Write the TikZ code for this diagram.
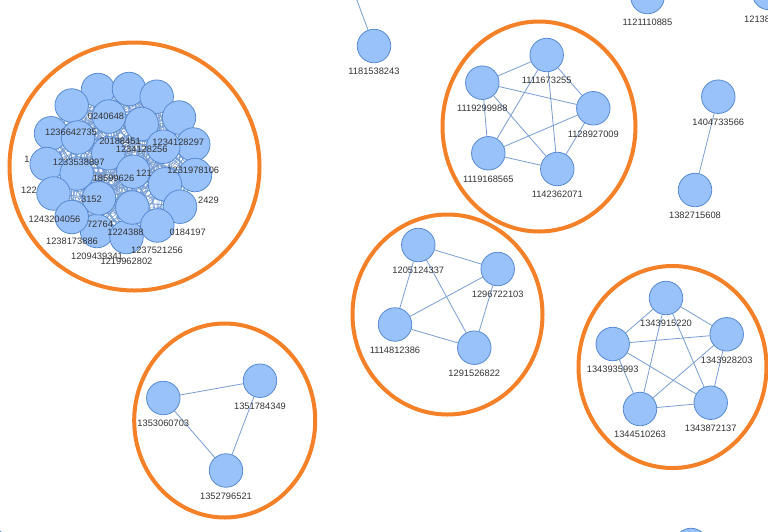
\documentclass[tikz,border=0pt]{standalone}
\usepackage{fontspec}
\setmainfont{Liberation Sans}
\usetikzlibrary{shapes.geometric}
\pgfdeclarelayer{bgwhite}
\pgfdeclarelayer{bg}
\pgfdeclarelayer{fg}
\pgfsetlayers{bgwhite,bg,main,fg}
\definecolor{nodefill}{RGB}{153,194,250}
\definecolor{nodedraw}{RGB}{88,138,210}
\definecolor{edgecol}{RGB}{120,158,212}
\definecolor{ringcol}{RGB}{244,128,40}
\definecolor{labcol}{RGB}{51,51,51}
\tikzset{
  gn/.style={circle, fill=nodefill, draw=nodedraw, line width=0.8pt, minimum size=33.5pt, inner sep=0pt},
  lab/.style={font=\fontsize{9.3}{10}\selectfont, text=labcol, inner sep=0pt},
  edge/.style={draw=edgecol, line width=0.8pt},
  ring/.style={ellipse, draw=ringcol, line width=4pt, inner sep=0pt},
}
\newcommand\gnode[4]{\node[gn] (#1) at (#2,#3) {};%
  \begin{pgfonlayer}{fg}\node[lab] (#1l) at (#2,#3+25.5) {#4};\end{pgfonlayer}}
\newcommand\frag[4]{\begin{pgfonlayer}{fg}\node[lab,#4] (#1) at (#2) {#3};\end{pgfonlayer}}
\begin{document}
\begin{tikzpicture}[x=1pt,y=-1pt]
\useasboundingbox (0,0) rectangle (768,531);
\begin{pgfonlayer}{bgwhite}
\fill[white] (0,0) rectangle (768,531);
\end{pgfonlayer}
\clip (0,0) rectangle (768,531);

% ---------- rings ----------
\node[ring, minimum width=250pt, minimum height=248pt] (ring1) at (134.5,166.5) {};
\node[ring, minimum width=193pt, minimum height=210pt] (ring2) at (539,126.5) {};
\node[ring, minimum width=190pt, minimum height=200pt] (ring3) at (447.5,314.5) {};
\node[ring, minimum width=188pt, minimum height=202pt] (ring4) at (672.5,367) {};
\node[ring, minimum width=181pt, minimum height=194pt] (ring5) at (224.7,420.5) {};

% ---------- big cluster ----------
\node[gn] (bX) at (97,231) {};
\node[gn] (bY) at (126.5,237) {};
\node[gn] (bA) at (98,90) {};
\node[gn] (bB) at (129,89) {};
\node[gn] (bC) at (156.7,96.7) {};
\node[gn] (bD) at (71.7,105.5) {};
\node[gn] (bE) at (179,117.5) {};
\node[gn] (bF) at (109,116.5) {};
\node[gn] (bG) at (141.7,124) {};
\node[gn] (bH) at (51,133.3) {};
\node[gn] (bI) at (78,137.5) {};
\node[gn] (bK) at (193.3,144.5) {};
\node[gn] (bJ) at (163.3,146.7) {};
\node[gn] (bL) at (108.3,153.3) {};
\node[gn] (bM) at (46.7,164) {};
\node[gn] (bN) at (76.7,173.5) {};
\node[gn] (bO) at (133.3,171.7) {};
\node[gn] (bP) at (195,175) {};
\node[gn] (bQ) at (165,184.3) {};
\node[gn] (bR) at (53.5,193.5) {};
\node[gn] (bS) at (99,198.3) {};
\node[gn] (bV) at (71.7,217) {};
\node[gn] (bT) at (132.3,207.5) {};
\node[gn] (bU) at (180,206.7) {};
\node[gn] (bW) at (157.3,225.5) {};

\begin{pgfonlayer}{bg}
\foreach \a [count=\i] in {bA,bB,bC,bD,bE,bF,bG,bH,bI,bJ,bK,bL,bM,bN,bO,bP,bQ,bR,bS,bT,bU,bV,bW,bX,bY}{
  \foreach \b [count=\j] in {bA,bB,bC,bD,bE,bF,bG,bH,bI,bJ,bK,bL,bM,bN,bO,bP,bQ,bR,bS,bT,bU,bV,bW,bX,bY}{
    \ifnum\j>\i \draw[edge,line width=0.6pt] (\a.center) -- (\b.center); \fi
  }
}
\end{pgfonlayer}

\frag{f1}{106,116.5}{0240648}{}
\frag{f2}{71,132.3}{1236642735}{}
\frag{f3}{120,141}{20188451}{}
\frag{f4}{141.7,149.3}{1234128256}{}
\frag{f5}{178.3,142.7}{1234128297}{}
\frag{f6}{27,159}{1}{}
\frag{f7}{78.7,162.7}{1233538897}{}
\frag{f8}{113.5,178.3}{18599626}{}
\frag{f9}{144,173.5}{121}{}
\frag{f10}{193.3,170.5}{1231978106}{}
\frag{f11}{21,190.5}{122}{anchor=west}
\frag{f12}{91.5,199.5}{3152}{}
\frag{f13}{219,200.5}{2429}{anchor=east}
\frag{f14}{54.5,219}{1243204056}{}
\frag{f15}{100,224}{72764}{}
\frag{f16}{125.5,232}{1224388}{}
\frag{f17}{206,232.5}{0184197}{anchor=east}
\frag{f18}{72,241}{1238173886}{}
\frag{f19}{157,250.7}{1237521256}{}
\frag{f20}{97,256.7}{1209439341}{}
\frag{f21}{126.5,261.7}{1219962802}{}

% ---------- singles at top ----------
\coordinate (offtop) at (342,-40);
\gnode{n1181538243}{374}{46}{1181538243}
\gnode{n1121110885}{647.5}{-3}{1121110885}
\node[gn] (n12138) at (769,-7) {};
\frag{n12138l}{744,19}{12138}{anchor=west}
\gnode{n1404733566}{718.3}{96.7}{1404733566}
\gnode{n1382715608}{695}{190}{1382715608}

% ---------- K5 top ----------
\gnode{n1111673255}{546.7}{55}{1111673255}
\gnode{n1119299988}{482.3}{82.7}{1119299988}
\gnode{n1128927009}{593.3}{108.3}{1128927009}
\gnode{n1119168565}{488.3}{153.3}{1119168565}
\gnode{n1142362071}{557.3}{169}{1142362071}

% ---------- K4 middle ----------
\gnode{n1205124337}{418.3}{245}{1205124337}
\gnode{n1296722103}{497.7}{269}{1296722103}
\gnode{n1114812386}{395}{324.5}{1114812386}
\gnode{n1291526822}{474.3}{347.7}{1291526822}

% ---------- K5 right ----------
\gnode{n1343915220}{666}{298}{1343915220}
\gnode{n1343928203}{726.7}{334.3}{1343928203}
\gnode{n1343935993}{612.7}{344}{1343935993}
\gnode{n1344510263}{640}{409}{1344510263}
\gnode{n1343872137}{710.7}{402.7}{1343872137}

% ---------- triangle ----------
\gnode{n1353060703}{163.3}{398}{1353060703}
\gnode{n1351784349}{260}{380.7}{1351784349}
\gnode{n1352796521}{226}{470.5}{1352796521}

% ---------- partial nodes at bottom ----------
\node[gn] (pb1) at (691,545) {};
\node[gn] (pb2) at (-6,547) {};

\begin{pgfonlayer}{bg}
\draw[edge] (n1181538243) -- (offtop);
\draw[edge] (n1404733566) -- (n1382715608);
\foreach \a/\b in {n1111673255/n1119299988, n1111673255/n1128927009, n1111673255/n1119168565,
  n1111673255/n1142362071, n1119299988/n1128927009, n1119299988/n1119168565,
  n1119299988/n1142362071, n1128927009/n1119168565, n1128927009/n1142362071,
  n1119168565/n1142362071,
  n1205124337/n1296722103, n1205124337/n1114812386, n1205124337/n1291526822,
  n1296722103/n1114812386, n1296722103/n1291526822, n1114812386/n1291526822,
  n1343915220/n1343928203, n1343915220/n1343935993, n1343915220/n1344510263,
  n1343915220/n1343872137, n1343928203/n1343935993, n1343928203/n1344510263,
  n1343928203/n1343872137, n1343935993/n1344510263, n1343935993/n1343872137,
  n1344510263/n1343872137,
  n1353060703/n1351784349, n1353060703/n1352796521, n1351784349/n1352796521}
  {\draw[edge] (\a) -- (\b);}
\end{pgfonlayer}
\end{tikzpicture}
\end{document}
